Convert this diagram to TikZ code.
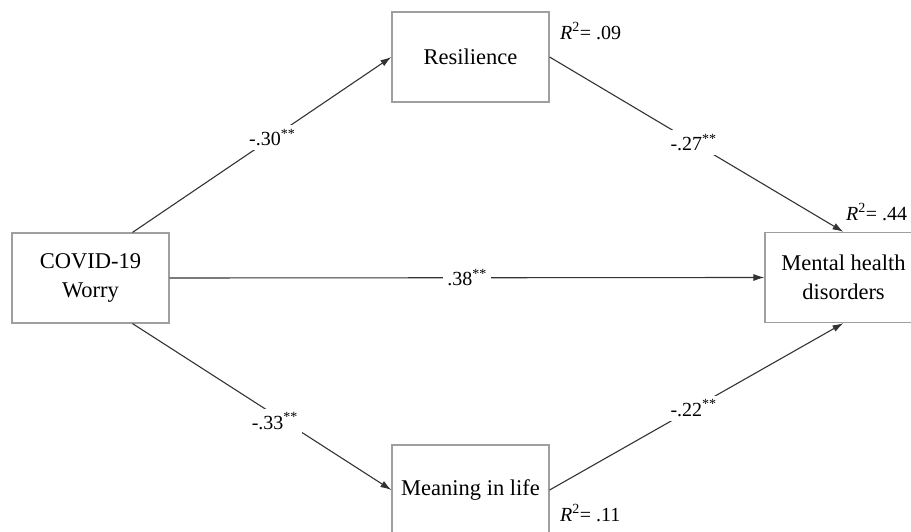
\documentclass[tikz,border=0pt]{standalone}
\usepackage{fontspec}
\setmainfont{Liberation Serif}
\usetikzlibrary{arrows.meta}

\begin{document}
\begin{tikzpicture}[x=1pt,y=-1pt,
	box/.style={draw=gray!75, line width=1.2pt, minimum width=157pt, minimum height=90pt, align=center, inner sep=0pt, font=\fontsize{22.5}{29}\selectfont},
	effect/.style={draw=black!80, line width=1.1pt, -{Latex[length=11pt,width=7pt]}},
	coef/.style={fill=white, inner sep=4pt, font=\fontsize{20}{24}\selectfont},
	rsq/.style={anchor=west, inner sep=0pt, font=\fontsize{20}{24}\selectfont}]
	\useasboundingbox (0,0) rectangle (911,532);

	% nodes
	\node[box] (worry) at (90.5,278) {COVID-19\\Worry};
	\node[box] (resil) at (470.5,57) {Resilience};
	\node[box] (mental) at (843.5,277.5) {Mental health\\disorders};
	\node[box] (meaning) at (470.5,490) {Meaning in life};

	% explained variance
	\node[rsq] (rresil) at (560,31) {\textit{R}\textsuperscript{2}= .09};
	\node[rsq] (rmental) at (846,212) {\textit{R}\textsuperscript{2}= .44};
	\node[rsq] (rmeaning) at (560,513) {\textit{R}\textsuperscript{2}= .11};

	%paths
	\draw[effect] ([xshift=42pt]worry.north) -- (resil.west) node[coef,pos=.54] {-.30\textsuperscript{**}};
	\draw[effect] (worry.east) -- (mental.west) node[coef,pos=.5] {.38\textsuperscript{**}};
	\draw[effect] ([xshift=42pt]worry.south) -- (meaning.west) node[coef,pos=.55,yshift=-6pt] {-.33\textsuperscript{**}};
	\draw[effect] (resil.east) -- (mental.north) node[coef,pos=.49] {-.27\textsuperscript{**}};
	\draw[effect] (meaning.east) -- (mental.south) node[coef,pos=.49] {-.22\textsuperscript{**}};
\end{tikzpicture}
\end{document}
